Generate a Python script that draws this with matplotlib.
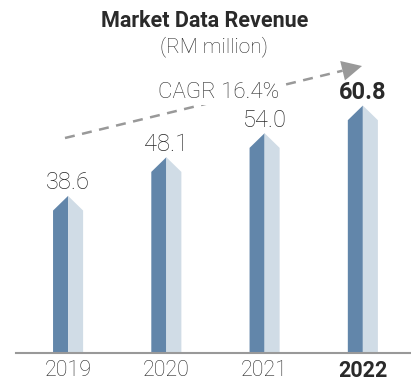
import numpy as np
import matplotlib
matplotlib.use("Agg")
import matplotlib.pyplot as plt
from matplotlib.patches import Polygon
from matplotlib.lines import Line2D

years = ["2019", "2020", "2021", "2022"]
revenue = [38.6, 48.1, 54.0, 60.8]
cagr_label = "CAGR 16.4%"

plt.rcParams["font.family"] = ["Roboto", "DejaVu Sans"]

FRONT = "#6286aa"
SIDE = "#d0dce6"
GREY = "#999999"
INK = "#2a2a2a"

W, H = 411, 382
fig = plt.figure(figsize=(W / 100, H / 100), dpi=100)

# axes: baseline 353px from the top, spanning to the right edge
base = (H - 353) / H
ax = fig.add_axes([16 / W, base, 1 - 16 / W, 1 - base])
ax.set_xlim(-0.53, 3.49)
ax.set_ylim(0, 353 / 4.07)
for s in ["top", "right", "left"]:
    ax.spines[s].set_visible(False)
ax.spines["bottom"].set_color(GREY)
ax.spines["bottom"].set_linewidth(1.5)
ax.set_yticks([])
ax.set_xticks(range(len(years)))
ax.set_xticklabels(years, fontsize=15.5, color=INK, fontweight="light")
ax.get_xticklabels()[-1].set_fontweight("bold")
ax.tick_params(axis="x", length=0, pad=5)

# two-tone bars with a pointed top
hw = 0.153     # half width in x units
tip = 3.6      # height of the pointed cap
for i, v in enumerate(revenue):
    front = [(i - hw, 0), (i, 0), (i, v), (i - hw, v - tip)]
    side = [(i, 0), (i + hw, 0), (i + hw, v - tip), (i, v)]
    ax.add_patch(Polygon(front, closed=True, facecolor=FRONT, edgecolor="none"))
    ax.add_patch(Polygon(side, closed=True, facecolor=SIDE, edgecolor="none"))
    last = i == len(revenue) - 1
    ax.text(i, v + 3.2, f"{v:.1f}", ha="center", va="center", fontsize=17,
            fontweight="bold" if last else "light", color=INK)

# title
fig.text(205 / W, 1 - 21 / H, "Market Data Revenue", ha="center", va="center",
         fontsize=15.5, fontweight="bold", color=INK)
fig.text(214 / W, 1 - 47 / H, "(RM million)", ha="center", va="center",
         fontsize=15, fontweight="light", color=INK)

# dashed growth arrow
x0, y0 = 65, 138
x1, y1 = 362, 66
d = np.array([x1 - x0, y1 - y0], float)
d /= np.hypot(*d)
n = np.array([-d[1], d[0]])
head_len, head_w = 20, 10
bx, by = np.array([x1, y1]) - d * head_len
fig.add_artist(Line2D([x0 / W, bx / W], [1 - y0 / H, 1 - by / H],
                      transform=fig.transFigure, color=GREY, lw=1.8,
                      linestyle=(0, (4, 3))))
pts = [(x1, y1), tuple(np.array([bx, by]) + n * head_w),
       tuple(np.array([bx, by]) - n * head_w)]
fig.add_artist(Polygon([(px / W, 1 - py / H) for px, py in pts], closed=True,
                       transform=fig.transFigure, facecolor=GREY,
                       edgecolor="none"))
fig.text(219 / W, 1 - 93 / H, cagr_label, ha="center", va="center",
         fontsize=16, fontweight="light", color=INK,
         bbox=dict(facecolor="white", edgecolor="none", pad=1))

fig.savefig("out.png", dpi=100)
